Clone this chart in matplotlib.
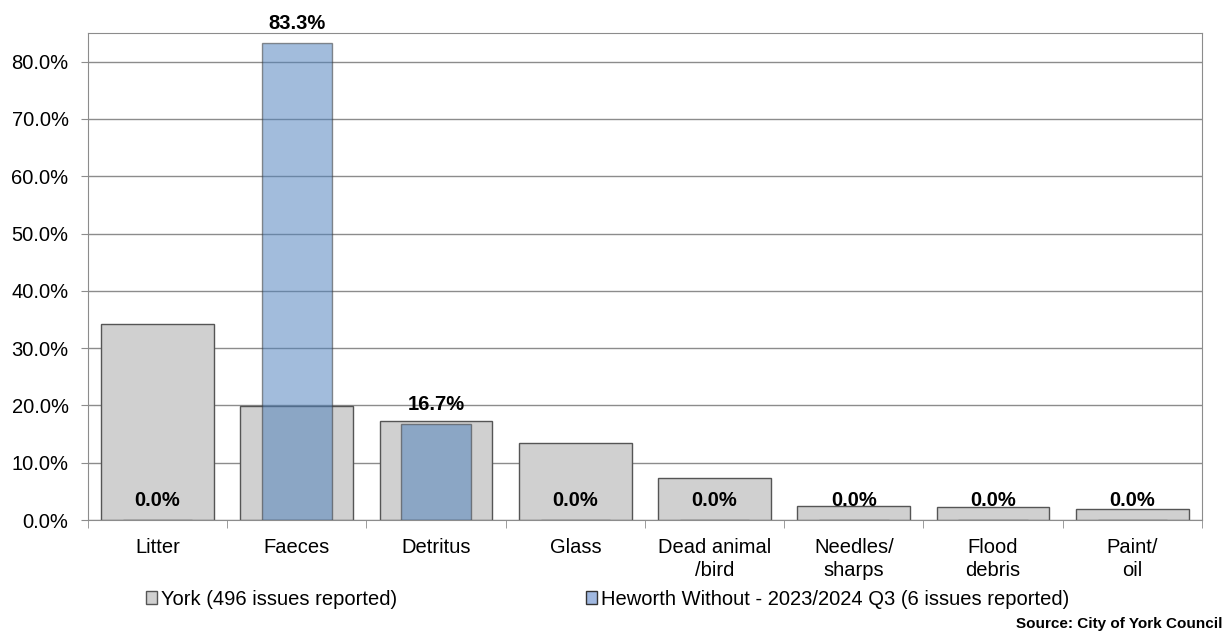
import matplotlib
matplotlib.use("Agg")
import matplotlib.pyplot as plt
from matplotlib.patches import Patch
import numpy as np

plt.rcParams['font.family'] = ['Liberation Sans', 'DejaVu Sans']

# chart data
categories = ['Litter', 'Faeces', 'Detritus', 'Glass', 'Dead animal\n/bird',
              'Needles/\nsharps', 'Flood\ndebris', 'Paint/\noil']
york = [34.2, 19.9, 17.3, 13.4, 7.3, 2.4, 2.2, 1.9]
heworth = [0.0, 83.3, 16.7, 0.0, 0.0, 0.0, 0.0, 0.0]
york_label = 'York (496 issues reported)'
heworth_label = 'Heworth Without - 2023/2024 Q3 (6 issues reported)'

fig = plt.figure(figsize=(12.25, 6.34), dpi=100)
ax = fig.add_axes([0.0718, 0.1798, 0.9094, 0.7682])

x = np.arange(len(categories))
ax.bar(x, york, width=0.81, color='#d0d0d0', edgecolor='#555555', linewidth=1, zorder=2)
ax.bar(x, heworth, width=0.5, color='#4f81bd', alpha=0.53, edgecolor='#333333',
       linewidth=1, zorder=3)

# value labels on the Heworth series
for xi, v in zip(x, heworth):
    ax.annotate(f'{v:.1f}%', (xi, v), xytext=(0, 14), textcoords='offset points',
                ha='center', va='center', fontsize=14.5, fontweight='bold', zorder=4)

ax.set_xlim(-0.5, len(categories) - 0.5)
ax.set_ylim(0, 85)
ax.set_yticks(np.arange(0, 81, 10))
ax.set_yticklabels([f'{t:.1f}%' for t in range(0, 81, 10)], fontsize=14.5)
ax.yaxis.grid(True, color='#8c8c8c', linewidth=1, zorder=0)
ax.set_axisbelow(True)

ax.set_xticks(x)
ax.set_xticklabels(categories, fontsize=14.5, linespacing=1.25)
ax.tick_params(axis='x', length=0, pad=13)
ax.set_xticks(np.arange(-0.5, len(categories)), minor=True)
ax.tick_params(axis='x', which='minor', length=6, color='#8c8c8c')
ax.tick_params(axis='y', length=5, color='#8c8c8c', pad=9)

for s in ax.spines.values():
    s.set_color('#8c8c8c')

handles = [Patch(facecolor='#d0d0d0', edgecolor='#555555', label=york_label),
           Patch(facecolor='#a0b8e0', edgecolor='#333333', label=heworth_label)]
fig.legend(handles=handles, loc='center', bbox_to_anchor=(0.496, 0.055), ncol=2,
           frameon=False, fontsize=14.5, handlelength=0.55, handleheight=0.55,
           handletextpad=0.2, columnspacing=9.4, borderpad=0)

fig.text(0.998, 0.005, 'Source: City of York Council', ha='right', va='bottom',
         fontsize=11, fontweight='bold')

fig.savefig('out.png', dpi=100)
